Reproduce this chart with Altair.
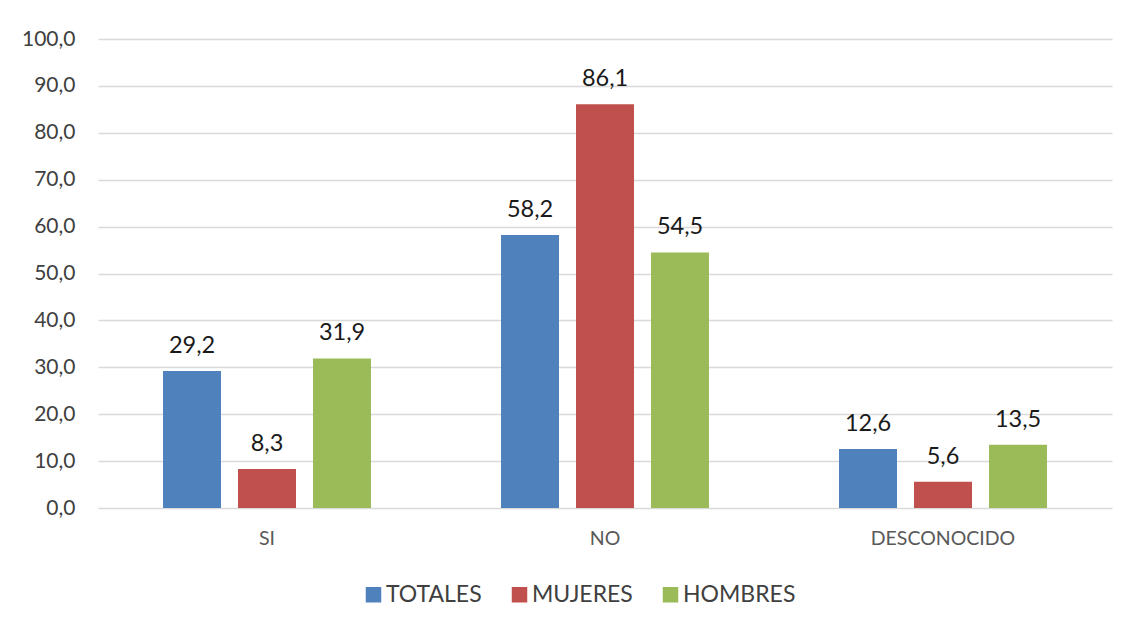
import altair as alt
import pandas as pd

categories = ["SI", "NO", "DESCONOCIDO"]
series = ["TOTALES", "MUJERES", "HOMBRES"]
totales = [29.2, 58.2, 12.6]
mujeres = [8.3, 86.1, 5.6]
hombres = [31.9, 54.5, 13.5]
colors = ["#4F81BD", "#C0504D", "#9BBB59"]

rows = []
for s, vals in zip(series, [totales, mujeres, hombres]):
    for c, v in zip(categories, vals):
        rows.append({"cat": c, "serie": s, "valor": v,
                     "etiqueta": f"{v:.1f}".replace(".", ",")})
df = pd.DataFrame(rows)

FONT = "Lato"

x = alt.X("cat:N", sort=categories, title=None,
          scale=alt.Scale(paddingInner=0, paddingOuter=0),
          axis=alt.Axis(labelAngle=0, ticks=False, domain=False, labelFontSize=19.5,
                        labelColor="#595959", labelPadding=21, labelFont=FONT))
xo = alt.XOffset("serie:N", sort=series,
                 scale=alt.Scale(paddingInner=0.2267, paddingOuter=0.867))
y = alt.Y("valor:Q", title=None,
          scale=alt.Scale(domain=[0, 100], nice=False),
          axis=alt.Axis(values=list(range(0, 101, 10)), domain=False, ticks=False,
                        labelExpr="replace(format(datum.value, '.1f'), '.', ',')",
                        labelFontSize=21, labelColor="#404040", labelPadding=23,
                        labelFont=FONT, gridColor="#d9d9d9", gridWidth=1.5))
color = alt.Color("serie:N", sort=series, title=None,
                  scale=alt.Scale(domain=series, range=colors),
                  legend=alt.Legend(orient="none", direction="horizontal",
                                    legendX=264, legendY=544,
                                    symbolType="square", symbolSize=240,
                                    symbolStrokeWidth=0, labelFontSize=23,
                                    labelFont=FONT, labelColor="#404040",
                                    columnPadding=26, symbolOffset=0,
                                    labelOffset=1))

bars = alt.Chart(df).mark_bar().encode(x=x, xOffset=xo, y=y, color=color)
labels = alt.Chart(df).mark_text(baseline="alphabetic", dy=-18, fontSize=23.5,
                                 font=FONT, color="#1a1a1a").encode(
    x=x, xOffset=xo, y=y, text="etiqueta:N")

chart = alt.layer(bars, labels).properties(
    width=1014, height=469,
    autosize=alt.AutoSizeParams(type="none"),
    padding={"left": 90, "top": 31, "right": 9, "bottom": 100},
).configure_view(stroke=None)

chart.save("out.html", embed_options={"renderer": "svg", "actions": False})
